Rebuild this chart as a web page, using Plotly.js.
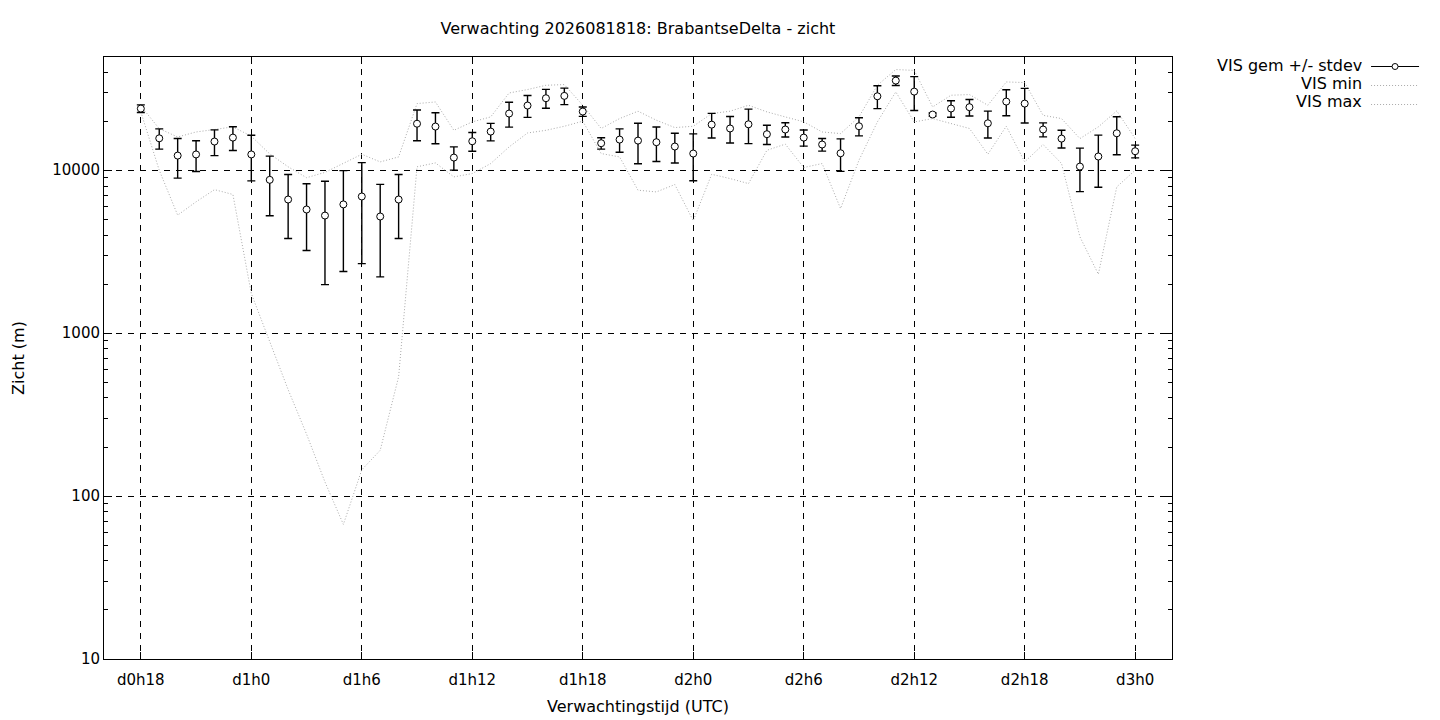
<!DOCTYPE html>
<html>
<head>
<meta charset="utf-8">
<script src="https://cdn.plot.ly/plotly-3.0.1.min.js"></script>
<style>html,body{margin:0;padding:0;background:#fff;}#chart{width:1440px;height:720px;}</style>
</head>
<body>
<div id="chart"></div>
<script>
// Forecast hours (hours after d0h0)
const hours = [18,19,20,21,22,23,24,25,26,27,28,29,30,31,32,33,34,35,36,37,38,39,40,41,42,43,44,45,
  46,47,48,49,50,51,52,53,54,55,56,57,58,59,60,61,62,63,64,65,66,67,68,69,70,71,72];

// VIS mean (m)
const visMean = [23900,15700,12300,12500,15000,15860,12500,8730,6610,5740,5270,6170,6900,5200,6610,19300,18540,11960,
  15060,17270,22280,24950,27670,28600,22920,14650,15420,15200,14860,13980,12660,19050,18040,19140,16640,17780,15860,14380,
  12710,18620,28440,35500,30380,21970,23920,24370,19410,26390,25650,17780,15640,10530,12140,16860,13080];

// VIS standard deviation (m)
const visStd = [1300,2230,3350,2670,2700,2630,3900,3470,2800,2525,3285,3780,4230,2985,2800,4135,3995,1950,
  1970,2125,3880,3830,3675,3325,1515,1170,2515,4240,3555,2900,4050,3290,3340,4585,2260,1785,1795,1280,
  2870,2365,4560,2360,7140,500,2770,2830,3640,4770,6145,1755,1950,3135,4280,4425,1170];

// VIS minimum (m)
const visMin = [22800,10000,5300,6400,7600,7100,1750,900,450,240,122,67,145,191,540,10500,11090,9100,
  9540,10990,13900,16930,17580,18620,20000,12660,12070,7540,7360,8170,4900,9440,8890,8280,13260,14460,10390,10990,
  5820,11520,19790,30260,19790,20750,19310,18040,12530,18620,11250,14380,11000,3900,2300,7900,10000];

// VIS maximum (m)
const visMax = [24800,18000,16000,17170,17780,18460,16170,12600,10500,9000,9700,11000,12530,11250,12070,25650,26240,17580,
  19800,21240,29800,31270,33220,33550,25050,18040,20750,23030,20270,18270,18620,22280,23030,25050,22810,21240,19820,17170,
  16790,21240,33220,41500,41000,24450,28860,29140,25050,34820,34530,21730,20750,15640,18460,23130,15640];

// X tick labels
const xTickVals = [18,24,30,36,42,48,54,60,66,72];
const xTickText = ['d0h18','d1h0','d1h6','d1h12','d1h18','d2h0','d2h6','d2h12','d2h18','d3h0'];

// Y tick labels
const yTickVals = [10,100,1000,10000];
const yTickText = ['10','100','1000','10000'];

const legendNames = ['VIS gem +/- stdev','VIS min','VIS max'];

const FONT = 'DejaVu Sans, sans-serif';
const grayDot = {color:'#aaaaaa', width:1, dash:'1px,2px'};

// minor ticks 2..9 per decade
const yMinor = [];
for (let d = 10; d <= 10000; d *= 10) { for (let k = 2; k <= 9; k++) yMinor.push(d*k); }

const traces = [
  {x:hours, y:visMin, type:'scatter', mode:'lines', line:grayDot, showlegend:false, hoverinfo:'x+y'},
  {x:hours, y:visMax, type:'scatter', mode:'lines', line:grayDot, showlegend:false, hoverinfo:'x+y'},
  {x:hours, y:visMean, type:'scatter', mode:'markers', showlegend:false,
   marker:{symbol:'circle', size:7, color:'#ffffff', line:{color:'#000000', width:1}},
   error_y:{type:'data', array:visStd, visible:true, color:'#000000', thickness:1.4, width:4}},
  // legend samples (no data)
  {x:[null], y:[null], type:'scatter', mode:'lines+markers', name:' ', showlegend:true,
   line:{color:'#000000', width:1}, marker:{symbol:'circle', size:6, color:'#ffffff', line:{color:'#000000', width:1}}},
  {x:[null], y:[null], type:'scatter', mode:'lines', name:' ', showlegend:true, line:grayDot},
  {x:[null], y:[null], type:'scatter', mode:'lines', name:' ', showlegend:true, line:grayDot}
];

const rowY = [0.9867, 0.9567, 0.9267];
const annotations = legendNames.map((t,i) => ({
  text:t, xref:'paper', yref:'paper', x:1.1798, y:rowY[i], xanchor:'right', yanchor:'middle',
  showarrow:false, font:{family:FONT, size:16, color:'#000'}
}));

const layout = {
  width:1440, height:720,
  margin:{l:104, r:268, t:57, b:61, autoexpand:false},
  paper_bgcolor:'#ffffff', plot_bgcolor:'#ffffff',
  font:{family:FONT, size:15, color:'#000000'},
  title:{text:'Verwachting 2026081818: BrabantseDelta - zicht', x:0.443, xanchor:'center', y:0.96, yanchor:'middle',
         font:{family:FONT, size:16, color:'#000'}},
  showlegend:true,
  legend:{x:1.1817, xanchor:'left', y:1.0083, yanchor:'top', font:{family:FONT, size:10}, itemwidth:48,
          tracegroupgap:0, bgcolor:'rgba(0,0,0,0)', borderwidth:0},
  annotations:annotations,
  xaxis:{
    range:[16,74], tickmode:'array', tickvals:xTickVals, ticktext:xTickText,
    ticks:'inside', ticklen:7, tickcolor:'#000', showline:true, linecolor:'#000', linewidth:1, mirror:'allticks',
    showgrid:true, gridcolor:'#000000', griddash:'6px,6px', gridwidth:1, zeroline:false,
    ticklabelstandoff:7,
    title:{text:'Verwachtingstijd (UTC)', standoff:12, font:{family:FONT, size:16}},
    tickfont:{family:FONT, size:15}
  },
  yaxis:{
    type:'log', range:[1, 4.695], tickmode:'array', tickvals:yTickVals, ticktext:yTickText,
    ticks:'inside', ticklen:8, tickcolor:'#000', showline:true, linecolor:'#000', linewidth:1, mirror:'allticks',
    showgrid:true, gridcolor:'#000000', griddash:'6px,6px', gridwidth:1, zeroline:false,
    minor:{tickmode:'array', tickvals:yMinor, ticks:'inside', ticklen:4, tickcolor:'#000', showgrid:false},
    title:{text:'Zicht (m)', standoff:23, font:{family:FONT, size:16}},
    tickfont:{family:FONT, size:15}
  }
};

Plotly.newPlot('chart', traces, layout, {staticPlot:true, displayModeBar:false});
</script>
</body>
</html>
